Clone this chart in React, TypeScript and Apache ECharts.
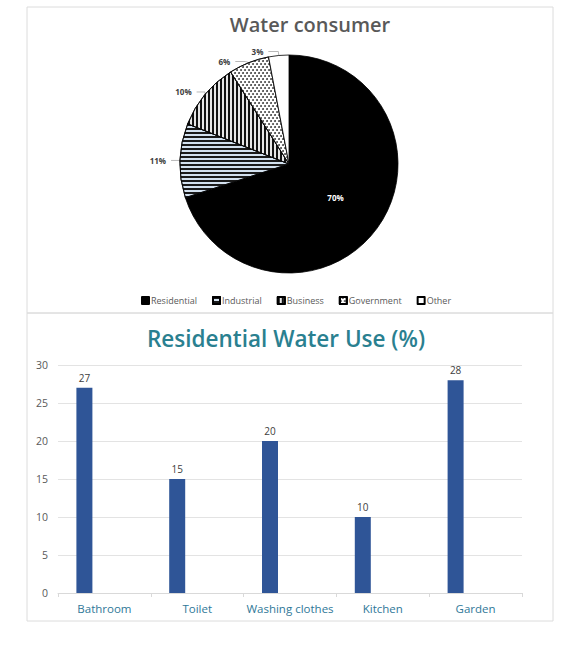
import React, { useEffect, useRef } from "react";
import * as echarts from "echarts";

const pieCategories = ["Residential", "Industrial", "Business", "Government", "Other"];
const pieValues = [70, 11, 10, 6, 3];

const barCategories = ["Bathroom", "Toilet", "Washing clothes", "Kitchen", "Garden"];
const barValues = [27, 15, 20, 10, 28];
const yTicks = { min: 0, max: 30, interval: 5 };

const pieStyles = [
  { color: "#000000" },
  {
    color: "#d3e1ef",
    decal: { symbol: "rect", symbolSize: 1, color: "#1a1a1a", dashArrayX: [1, 0], dashArrayY: [1.6, 1.6] },
  },
  {
    color: "#e6e6e6",
    decal: { symbol: "rect", symbolSize: 1, color: "#111111", dashArrayX: [1.6, 1.6], dashArrayY: [1, 0] },
  },
  {
    color: "#ffffff",
    decal: { symbol: "circle", symbolSize: 0.9, color: "#333333", dashArrayX: [[2, 1.2], [0, 1.6, 2, 0]], dashArrayY: [1.6, 0.8] },
  },
  { color: "#ffffff" },
];

export default function App() {
  const ref = useRef<HTMLDivElement>(null);
  useEffect(() => {
    if (!ref.current) return;
    const chart = echarts.init(ref.current, null, { renderer: "svg" });
    const font = "'Open Sans', 'Noto Sans', sans-serif";
    chart.setOption({
      animation: false,
      backgroundColor: "#ffffff",
      textStyle: { fontFamily: font },
      title: [
        {
          text: "Water consumer",
          left: 305,
          top: 9,
          textAlign: "center",
          textStyle: { fontSize: 20, fontWeight: 600, color: "#595959", fontFamily: font },
        },
        {
          text: "Residential Water Use (%)",
          left: 281,
          top: 322,
          textAlign: "center",
          textStyle: { fontSize: 22.5, fontWeight: 600, color: "#2a8090", fontFamily: font },
        },
      ],
      legend: {
        data: pieCategories,
        left: 136,
        top: 291,
        itemWidth: 7,
        itemHeight: 7,
        itemGap: 15,
        icon: "rect",
        textStyle: { fontSize: 9, color: "#595959", padding: [0, 0, 0, -3] },
      },
      graphic: [
        { type: "rect", shape: { x: 27, y: 7, width: 526, height: 306 }, style: { fill: "none", stroke: "#dcdcdc", lineWidth: 1 }, silent: true },
        { type: "rect", shape: { x: 27, y: 313, width: 526, height: 308 }, style: { fill: "none", stroke: "#dcdcdc", lineWidth: 1 }, silent: true },
      ],
      grid: { left: 58, right: 53, top: 365, bottom: 52, containLabel: false },
      xAxis: {
        type: "category",
        data: barCategories,
        axisLine: { lineStyle: { color: "#d9d9d9" } },
        axisTick: { show: true, length: 4, lineStyle: { color: "#d9d9d9" } },
        axisLabel: { color: "#2f7898", fontSize: 11.5, margin: 9, interval: 0, fontFamily: font },
      },
      yAxis: {
        type: "value",
        min: yTicks.min,
        max: yTicks.max,
        interval: yTicks.interval,
        axisLine: { show: false },
        axisTick: { show: false },
        axisLabel: { color: "#595959", fontSize: 10.5, margin: 10, fontFamily: font },
        splitLine: { lineStyle: { color: "#e3e3e3" } },
      },
      series: [
        {
          type: "pie",
          center: [289, 164],
          radius: 109,
          startAngle: 90,
          clockwise: true,
          data: pieCategories.map((name, i) => ({
            name,
            value: pieValues[i],
            itemStyle: { ...pieStyles[i], borderColor: "#000000", borderWidth: 0.8 },
            label:
              i === 0
                ? { position: "inside", color: "#ffffff", fontWeight: "bold", fontSize: 8, textBorderWidth: 0, textBorderColor: "transparent" }
                : { position: "outside" },
          })),
          label: {
            formatter: "{c}%",
            fontSize: 8,
            fontWeight: "bold",
            color: "#404040",
            fontFamily: font,
          },
          labelLine: { show: true, length: 4, length2: 10, lineStyle: { color: "#a6a6a6", width: 0.8 } },
        },
        {
          type: "bar",
          data: barValues,
          barWidth: 16,
          barGap: "150%",
          itemStyle: { color: "#2f5597" },
          label: { show: true, position: "top", color: "#404040", fontSize: 10, distance: 5, fontFamily: font },
        },
        {
          type: "bar",
          data: barValues.map(() => null),
          barWidth: 16,
          itemStyle: { color: "#ed7d31" },
        },
      ],
    });
    return () => chart.dispose();
  }, []);
  return <div ref={ref} style={{ position: "fixed", left: 0, top: 0, width: 575, height: 645 }} />;
}
